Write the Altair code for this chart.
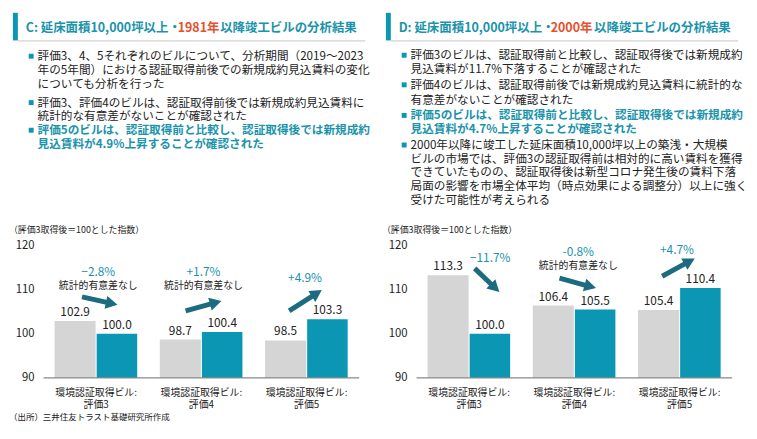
import math
import altair as alt
import pandas as pd

FONT = "Noto Sans CJK JP"
TEAL = "#0b97b3"
TITLE_TEAL = "#1a93ab"
RED = "#e8502e"
DARK = "#1c6b80"
GRAY = "#d5d5d5"
TXT = "#222222"

# ---------------- data ----------------
categories = ["環境認証取得ビル:\n評価3", "環境認証取得ビル:\n評価4", "環境認証取得ビル:\n評価5"]
left_before = [102.9, 98.7, 98.5]
left_after = [100.0, 100.4, 103.3]
right_before = [113.3, 106.4, 105.4]
right_after = [100.0, 105.5, 110.4]
left_change = ["−2.8%", "+1.7%", "+4.9%"]
right_change = ["−11.7%", "-0.8%", "+4.7%"]
left_note = ["統計的有意差なし", "統計的有意差なし", ""]
right_note = ["", "統計的有意差なし", ""]
y_ticks = [90, 100, 110, 120]

left_title = ["C: 延床面積10,000坪以上・", "1981年", "以降竣工ビルの分析結果"]
right_title = ["D: 延床面積10,000坪以上・", "2000年", "以降竣工ビルの分析結果"]

left_bullets = [
    ["評価3、4、5それぞれのビルについて、分析期間（2019～2023",
     "年の5年間）における認証取得前後での新規成約見込賃料の変化",
     "についても分析を行った"],
    ["評価3、評価4のビルは、認証取得前後では新規成約見込賃料に",
     "統計的な有意差がないことが確認された"],
    ["評価5のビルは、認証取得前と比較し、認証取得後では新規成約",
     "見込賃料が4.9%上昇することが確認された"],
]
right_bullets = [
    ["評価3のビルは、認証取得前と比較し、認証取得後では新規成約",
     "見込賃料が11.7%下落することが確認された"],
    ["評価4のビルは、認証取得前後では新規成約見込賃料に統計的な",
     "有意差がないことが確認された"],
    ["評価5のビルは、認証取得前と比較し、認証取得後では新規成約",
     "見込賃料が4.7%上昇することが確認された"],
    ["2000年以降に竣工した延床面積10,000坪以上の築浅・大規模",
     "ビルの市場では、評価3の認証取得前は相対的に高い賃料を獲得",
     "できていたものの、認証取得後は新型コロナ発生後の賃料下落",
     "局面の影響を市場全体平均（時点効果による調整分）以上に強く",
     "受けた可能性が考えられる"],
]
index_note = "（評価3取得後＝100とした指数）"
source_note = "（出所）三井住友トラスト基礎研究所作成"

# ---------------- layout ----------------
XD, XR = [-0.5, 2.5], [35, 355]
YD, YR = [90, 120], [371, 237]
KX = (XR[1] - XR[0]) / (XD[1] - XD[0])
KY = (YR[0] - YR[1]) / (YD[1] - YD[0])
HS = 6.0  # arrow head scale (px)
HEAD = "M0,0L-2,-1.1L-2,1.1Z"


def X(field, **kw):
    return alt.X(field, scale=alt.Scale(domain=XD, range=XR), axis=None, **kw)


def Y(field, **kw):
    return alt.Y(field, scale=alt.Scale(domain=YD, range=YR), axis=None, **kw)


def bar_group(before, after, change, note, change_pos, note_pos, arrows):
    rows = []
    for i, (b, a) in enumerate(zip(before, after)):
        rows.append(dict(x=i - 0.395, x2=i - 0.005, v=b, base=90, kind="before"))
        rows.append(dict(x=i + 0.005, x2=i + 0.39, v=a, base=90, kind="after"))
    bdf = pd.DataFrame(rows)
    bdf["c"] = (bdf.x + bdf.x2) / 2
    bdf["lab"] = bdf.v.map(lambda v: f"{v:.1f}")

    bars = alt.Chart(bdf).mark_rect().encode(
        x=X("x:Q"), x2="x2:Q", y=Y("v:Q"), y2="base:Q",
        color=alt.Color("kind:N", scale=alt.Scale(domain=["before", "after"], range=[GRAY, TEAL]), legend=None),
    )
    vlab = alt.Chart(bdf).mark_text(font=FONT, fontSize=12, color=TXT, dy=-9, baseline="middle").encode(
        x=X("c:Q"), y=Y("v:Q"), text="lab:N")

    cdf = pd.DataFrame([dict(x=p[0], y=p[1], t=t) for t, p in zip(change, change_pos) if t])
    clab = alt.Chart(cdf).mark_text(font=FONT, fontSize=12, color=TITLE_TEAL, baseline="middle").encode(
        x=X("x:Q"), y=Y("y:Q"), text="t:N")
    ndf = pd.DataFrame([dict(x=p[0], y=p[1], t=t) for t, p in zip(note, note_pos) if t])
    nlab = alt.Chart(ndf).mark_text(font=FONT, fontSize=10, color=TXT, baseline="middle").encode(
        x=X("x:Q"), y=Y("y:Q"), text="t:N")

    arows = []
    for (x1, y1, x2, y2) in arrows:
        dxp = (x2 - x1) * KX
        dyp = -(y2 - y1) * KY
        L = math.hypot(dxp, dyp)
        ang = math.degrees(math.atan2(dyp, dxp)) % 360
        back = 2 * HS - 2
        ex = x2 - (dxp / L * back) / KX
        ey = y2 + (dyp / L * back) / KY
        arows.append(dict(x1=x1, y1=y1, ex=ex, ey=ey, tx=x2, ty=y2, ang=ang))
    adf = pd.DataFrame(arows)
    shafts = alt.Chart(adf).mark_rule(color=DARK, strokeWidth=5).encode(
        x=X("x1:Q"), y=Y("y1:Q"), x2="ex:Q", y2="ey:Q")
    heads = alt.Chart(adf).mark_point(shape=HEAD, filled=True, size=4 * HS * HS, color=DARK,
                                       opacity=1, strokeWidth=0).encode(
        x=X("tx:Q"), y=Y("ty:Q"), angle=alt.Angle("ang:Q", scale=None))

    tdf = pd.DataFrame({"v": y_ticks})
    ticks = alt.Chart(tdf).mark_text(font=FONT, fontSize=11.5, color=TXT, align="right",
                                     baseline="middle").encode(
        x=alt.value(26), y=Y("v:Q"), text="v:N")
    basedf = pd.DataFrame([dict(a=XD[0], b=XD[1], v=YD[0])])
    baseline = alt.Chart(basedf).mark_rule(color="#8a8a8a", strokeWidth=1.5).encode(
        x=X("a:Q"), x2="b:Q", y=Y("v:Q"))
    catdf = pd.DataFrame({"i": list(range(len(categories))), "t": categories})
    cats = alt.Chart(catdf).mark_text(font=FONT, fontSize=10, color=TXT, baseline="top",
                                      lineBreak="\n", lineHeight=12.5).encode(
        x=X("i:Q"), y=alt.value(381), text="t:N")
    return alt.layer(bars, vlab, clab, nlab, shafts, heads, ticks, baseline, cats)


def text_group(title, title_x, bullets, bullet_ys, bullet_styles, extra):
    rows = []

    def add(x, y, t, c=TXT, s=11.8, b=False):
        rows.append(dict(px=x - 8, py=y - 8, t=t, c=c, s=s, b=b))

    for t, x, c in zip(title, title_x, [TITLE_TEAL, RED, TITLE_TEAL]):
        add(x, 24, t, c, 12.6, True)
    sq = []
    for lines, ys, (c, b) in zip(bullets, bullet_ys, bullet_styles):
        sq.append(dict(px=30.5 - 8, py=ys[0] - 8))
        for ln, y in zip(lines, ys):
            add(37, y, ln, c, 11.8, b)
    for (x, y, t, s) in extra:
        add(x, y, t, TXT, s, False)
    df = pd.DataFrame(rows)
    enc = dict(x=alt.X("px:Q", scale=None, axis=None), y=alt.Y("py:Q", scale=None, axis=None),
               text="t:N", color=alt.Color("c:N", scale=None), size=alt.Size("s:Q", scale=None))
    normal = alt.Chart(df).transform_filter("!datum.b").mark_text(
        font=FONT, align="left", baseline="middle").encode(**enc)
    bold = alt.Chart(df).transform_filter("datum.b").mark_text(
        font=FONT, align="left", baseline="middle", fontWeight="bold").encode(**enc)
    squares = alt.Chart(pd.DataFrame(sq)).mark_square(size=25, color=TEAL, opacity=1).encode(
        x=alt.X("px:Q", scale=None, axis=None), y=alt.Y("py:Q", scale=None, axis=None))
    bar = alt.Chart(pd.DataFrame([{"k": 1}])).mark_rect(color=TEAL).encode(
        x=alt.value(4), x2=alt.value(9), y=alt.value(1), y2=alt.value(29))
    uline = alt.Chart(pd.DataFrame([{"k": 1}])).mark_rule(color="#c8c8c8", strokeWidth=1).encode(
        x=alt.value(9), x2=alt.value(361), y=alt.value(29.5))
    return alt.layer(bar, uline, squares, normal, bold)


def panel(width, tg, bg):
    return alt.layer(tg, bg).resolve_scale(x="independent", y="independent").properties(
        width=width, height=423)


left_tg = text_group(
    left_title, [25, 179, 222], left_bullets,
    [[53, 67, 81], [100, 113.5], [128, 142]],
    [(TXT, False), (TXT, False), (TITLE_TEAL, True)],
    [(8, 229, index_note, 9), (8, 419, source_note, 8.6)],
)
left_bg = bar_group(
    left_before, left_after, left_change, left_note,
    [(0.02, 113.95), (1.02, 113.95), (1.985, 112.6)],
    [(0.02, 110.8), (1.02, 110.8), (0, 0)],
    [(-0.134, 108.36, 0.203, 106.57), (0.85, 105.2, 1.19, 107.46), (1.834, 105.2, 2.144, 109.93)],
)
right_tg = text_group(
    right_title, [25, 179, 223], right_bullets,
    [[52, 66], [82, 97], [113, 127], [143, 157, 170.5, 184.5, 198.5]],
    [(TXT, False), (TXT, False), (TITLE_TEAL, True), (TXT, False)],
    [(8, 229, index_note, 9)],
)
right_bg = bar_group(
    right_before, right_after, right_change, right_note,
    [(0.2, 117.09), (1.0375, 118.66), (1.975, 119.1)],
    [(0, 0), (1.0375, 115.3), (0, 0)],
    [(0.053, 114.85, 0.2875, 109.48), (0.859, 112.61, 1.206, 110.37), (1.834, 113.06, 2.144, 117.09)],
)

chart = alt.hconcat(
    panel(378, left_tg, left_bg),
    panel(363, right_tg, right_bg),
    spacing=0,
    bounds="flush",
).properties(padding=0).configure_view(stroke="transparent")

chart.save("out.html", embed_options={"renderer": "svg", "actions": False})
